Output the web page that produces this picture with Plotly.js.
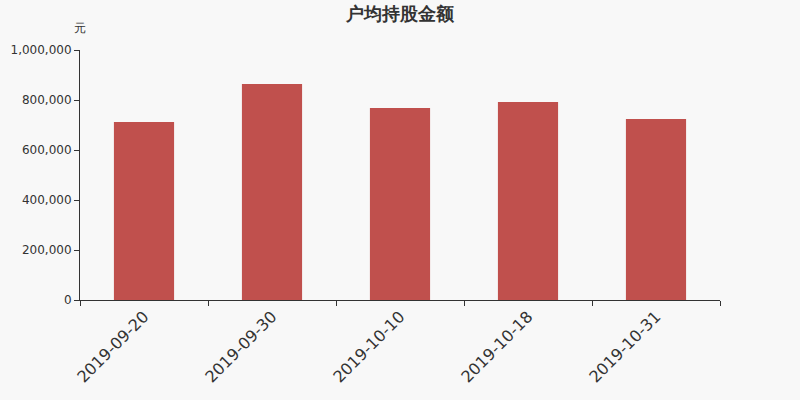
<!DOCTYPE html>
<html>
<head>
<meta charset="utf-8">
<script src="https://cdn.plot.ly/plotly-3.0.1.min.js"></script>
<style>
  body { margin: 0; background: #f8f8f8; }
  #chart { width: 800px; height: 400px; }
</style>
</head>
<body>
<div id="chart"></div>
<script>
// data
const dates = ['2019-09-20', '2019-09-30', '2019-10-10', '2019-10-18', '2019-10-31']
const amounts = [712000, 864000, 768000, 792000, 724000]
const yTicks = [0, 200000, 400000, 600000, 800000, 1000000]

const bg = 'rgb(248,248,248)'
const barColor = 'rgb(192,80,77)'
const textColor = '#333'
const font = "'DejaVu Sans', sans-serif"

let trace = {
  type: 'bar',
  x: dates,
  y: amounts,
  marker: { color: barColor },
  hoverinfo: 'x+y',
}

let layout = {
  width: 800,
  height: 400,
  paper_bgcolor: bg,
  plot_bgcolor: bg,
  font: { family: font, color: textColor, size: 12 },
  margin: { l: 80, r: 80, t: 50, b: 100 },
  bargap: 0.53,
  showlegend: false,
  title: {
    text: '<b>户均持股金额</b>',
    x: 0.5,
    xanchor: 'center',
    y: 0.966,
    yanchor: 'middle',
    font: { size: 18, color: textColor, family: font },
  },
  xaxis: {
    type: 'category',
    showline: true,
    linecolor: textColor,
    linewidth: 1,
    ticks: 'outside',
    tickson: 'boundaries',
    ticklen: 5,
    tickcolor: textColor,
    tickangle: -45,
    tickfont: { size: 16, color: textColor },
    showgrid: false,
    zeroline: false,
  },
  yaxis: {
    range: [0, 1000000],
    tickvals: yTicks,
    tickformat: ',d',
    showline: true,
    linecolor: textColor,
    linewidth: 1,
    ticks: 'outside',
    ticklen: 5,
    tickcolor: textColor,
    tickfont: { size: 12, color: textColor },
    showgrid: false,
    zeroline: false,
  },
  annotations: [
    {
      xref: 'paper',
      yref: 'paper',
      x: 0,
      y: 1.086,
      xanchor: 'center',
      yanchor: 'middle',
      text: '元',
      showarrow: false,
      font: { size: 12, color: textColor, family: font },
    },
  ],
}

Plotly.newPlot('chart', [trace], layout, { displayModeBar: false })
</script>
</body>
</html>
